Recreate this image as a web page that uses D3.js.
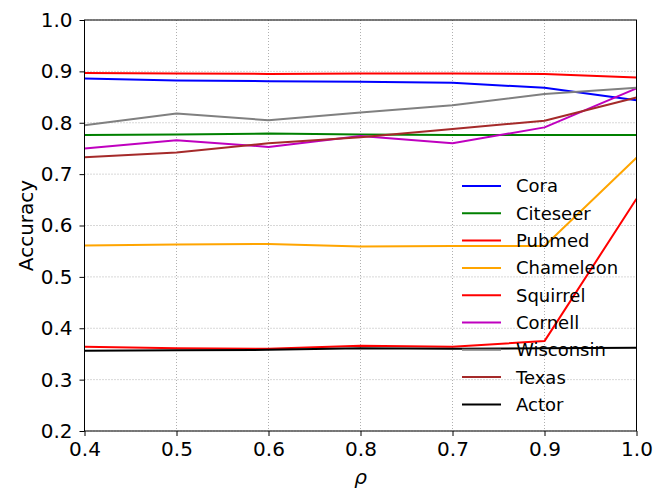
<!DOCTYPE html>
<html>
<head>
<meta charset="utf-8">
<script src="https://cdn.jsdelivr.net/npm/d3@7"></script>
<style>
  body { margin: 0; background: #fff; }
  text { font-family: "DejaVu Sans", sans-serif; }
</style>
</head>
<body>
<div id="chart"></div>
<script>

// x categories as they appear on the axis (equally spaced, not sorted)
var rhoLabels = ["0.4", "0.5", "0.6", "0.8", "0.7", "0.9", "1.0"];

var cora      = [0.886, 0.882, 0.881, 0.880, 0.878, 0.868, 0.844];
var citeseer  = [0.776, 0.777, 0.779, 0.777, 0.776, 0.776, 0.776];
var pubmed    = [0.897, 0.896, 0.895, 0.896, 0.896, 0.895, 0.888];
var chameleon = [0.561, 0.563, 0.564, 0.559, 0.560, 0.560, 0.732];
var squirrel  = [0.364, 0.361, 0.360, 0.366, 0.364, 0.375, 0.652];
var cornell   = [0.750, 0.766, 0.753, 0.774, 0.760, 0.791, 0.867];
var wisconsin = [0.795, 0.818, 0.805, 0.820, 0.834, 0.856, 0.868];
var texas     = [0.733, 0.742, 0.760, 0.772, 0.788, 0.804, 0.849];
var actor     = [0.356, 0.357, 0.358, 0.361, 0.360, 0.361, 0.362];

var yTicks = [0.2, 0.3, 0.4, 0.5, 0.6, 0.7, 0.8, 0.9, 1.0];

var seriesNames  = ["Cora", "Citeseer", "Pubmed", "Chameleon", "Squirrel", "Cornell", "Wisconsin", "Texas", "Actor"];
var seriesValues = [cora, citeseer, pubmed, chameleon, squirrel, cornell, wisconsin, texas, actor];
var seriesColors = ["#0000ff", "#008000", "#ff0000", "#ffa500", "#ff0000", "#bf00bf", "#808080", "#a52a2a", "#000000"];

var full_width = 657, full_height = 489;
var margin = {left: 84.5, right: 20.5, top: 20, bottom: 58};
var width = full_width - margin.left - margin.right;
var height = full_height - margin.top - margin.bottom;

var svg = d3.select("#chart")
    .append("svg")
    .attr("width", full_width)
    .attr("height", full_height);

var chart = svg.append("g")
    .attr("transform", "translate(" + margin.left + "," + margin.top + ")");

var x = d3.scalePoint().domain(rhoLabels).range([0, width]).padding(0);
var y = d3.scaleLinear().domain([0.2, 1.0]).range([height, 0]);

// dotted grid
chart.append("g")
    .selectAll("line.gx")
    .data(rhoLabels)
    .enter().append("line")
    .attr("x1", function(d){ return x(d); })
    .attr("x2", function(d){ return x(d); })
    .attr("y1", 0).attr("y2", height)
    .attr("stroke", "#b0b0b0").attr("stroke-width", 1)
    .attr("stroke-dasharray", "1,2");

chart.append("g")
    .selectAll("line.gy")
    .data(yTicks)
    .enter().append("line")
    .attr("x1", 0).attr("x2", width)
    .attr("y1", function(d){ return y(d); })
    .attr("y2", function(d){ return y(d); })
    .attr("stroke", "#b0b0b0").attr("stroke-width", 1)
    .attr("stroke-dasharray", "1,2");

// lines
var line = d3.line()
    .x(function(d, i){ return x(rhoLabels[i]); })
    .y(function(d){ return y(d); });

seriesValues.forEach(function(vals, i){
    chart.append("path")
        .datum(vals)
        .attr("d", line)
        .attr("fill", "none")
        .attr("stroke", seriesColors[i])
        .attr("stroke-width", 2)
        .attr("stroke-linejoin", "round");
});

// axes
var xAxis = d3.axisBottom(x).tickSize(5).tickPadding(6);
var yAxis = d3.axisLeft(y).tickValues(yTicks).tickSize(5).tickPadding(7)
    .tickFormat(d3.format(".1f"));

var gx = chart.append("g")
    .attr("transform", "translate(0," + height + ")")
    .call(xAxis);
var gy = chart.append("g").call(yAxis);

[gx, gy].forEach(function(g){
    g.select(".domain").remove();
    g.selectAll(".tick line").attr("stroke", "#000").attr("stroke-width", 1);
    g.selectAll(".tick text")
        .attr("fill", "#000")
        .style("font-family", "DejaVu Sans")
        .style("font-size", "20px");
});

// frame
chart.append("rect")
    .attr("x", 0).attr("y", 0)
    .attr("width", width).attr("height", height)
    .attr("fill", "none")
    .attr("stroke", "#000")
    .attr("stroke-width", 1);

// axis labels
svg.append("text")
    .attr("transform", "translate(26," + (margin.top + height / 2) + ") rotate(-90)")
    .attr("text-anchor", "middle")
    .attr("dy", "0.35em")
    .style("font-size", "20px")
    .text("Accuracy");

svg.append("text")
    .attr("x", margin.left + width / 2)
    .attr("y", 484)
    .attr("text-anchor", "middle")
    .style("font-size", "20px")
    .style("font-style", "italic")
    .text("ρ");

// legend (no frame)
var legend = svg.append("g")
    .attr("transform", "translate(462,186)");

seriesNames.forEach(function(name, i){
    var row = legend.append("g")
        .attr("transform", "translate(0," + (i * 27.3) + ")");
    row.append("line")
        .attr("x1", 0).attr("x2", 39)
        .attr("y1", 0).attr("y2", 0)
        .attr("stroke", seriesColors[i])
        .attr("stroke-width", 2);
    row.append("text")
        .attr("x", 54)
        .attr("y", 0)
        .attr("dy", "0.36em")
        .style("font-size", "18px")
        .text(name);
});

</script>
</body>
</html>
